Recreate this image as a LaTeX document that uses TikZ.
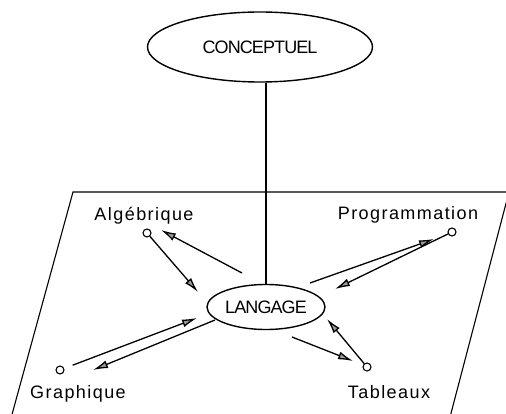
\documentclass[tikz,border=0pt]{standalone}
\usepackage{fontspec}
\setmainfont{Liberation Sans}
\usetikzlibrary{arrows.meta,shapes.geometric}

\tikzset{
  level/.style={draw, ellipse, line width=1.4pt, inner sep=0pt,
    font=\fontsize{18}{20}\selectfont\addfontfeature{LetterSpace=-5}},
  term/.style={draw, circle, line width=1.1pt, fill=white, inner sep=0pt, minimum size=8pt},
  lbl/.style={anchor=base, font=\fontsize{18}{20}\selectfont\addfontfeature{LetterSpace=8}},
  flow/.style={line width=1.3pt, -{Latex[length=15pt,width=8pt,fill=gray!80]}},
}

\begin{document}
\begin{tikzpicture}[x=1pt,y=-1pt]
\clip (0,0) rectangle (506,414);

\draw [line width=1.1pt] (73,192) -- (509,192) -- (444,440) -- (5,440) -- cycle;

\node[level, minimum width=225pt, minimum height=70pt] (concept) at (260,47) {CONCEPTUEL};
\node[level, minimum width=118pt, minimum height=45pt] (lang) at (266,307) {LANGAGE};
\draw [line width=1.1pt] (concept.south -| lang.north) -- (lang.north);

\node[lbl] (alg-txt) at (144,221) {Algébrique};
\node[lbl] (prog-txt) at (408,220) {Programmation};
\node[lbl] (graph-txt) at (78,398) {Graphique};
\node[lbl] (tab-txt) at (389,398) {Tableaux};

\node[term] (alg) at (147,233) {};
\node[term] (prog) at (452,232) {};
\node[term] (graph) at (60,370) {};
\node[term] (tab) at (367,367) {};

\coordinate (alg-in) at (198,292);
\coordinate (alg-out) at (242,273);
\coordinate (alg-tip) at (161,230);
\coordinate (prog-out) at (310,283);
\coordinate (prog-tip) at (434,239);
\coordinate (prog-in) at (335,289);
\coordinate (graph-in) at (197,318);
\coordinate (graph-out) at (215,320);
\coordinate (graph-tip) at (93,370);
\coordinate (tab-out) at (292,337);
\coordinate (tab-tip) at (353,361);
\coordinate (tab-in) at (327,319);

\draw [flow] (alg) -- (alg-in);
\draw [flow] (alg-out) -- (alg-tip);
\draw [flow] (prog-out) -- (prog-tip);
\draw [flow] (prog) -- (prog-in);
\draw [flow, shorten <=9pt] (graph) -- (graph-in);
\draw [flow] (graph-out) -- (graph-tip);
\draw [flow] (tab-out) -- (tab-tip);
\draw [flow] (tab) -- (tab-in);
\end{tikzpicture}
\end{document}
